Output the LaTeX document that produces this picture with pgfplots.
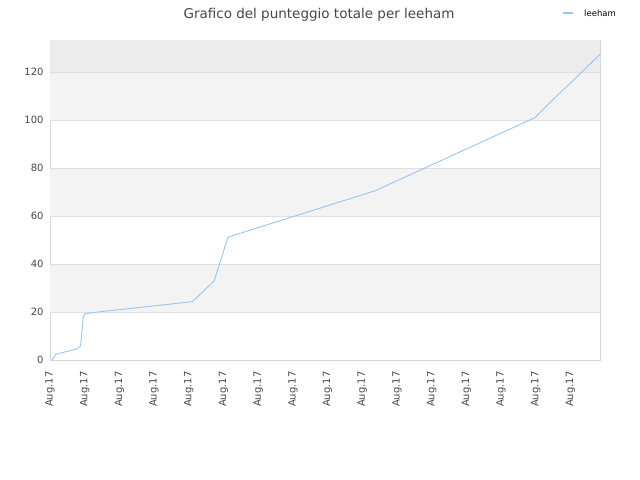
\documentclass[border=0pt]{standalone}
\usepackage{pgfplots}
\pgfplotsset{compat=1.18}
\usepackage{fontspec}
\setmainfont{DejaVu Sans}
\definecolor{serie}{RGB}{150,198,245}
\definecolor{bandA}{RGB}{243,243,243}
\definecolor{bandB}{RGB}{236,236,236}
\definecolor{griglia}{RGB}{224,224,224}
\definecolor{bordo}{RGB}{214,214,214}
\definecolor{testo}{RGB}{70,70,70}

\begin{document}
\begin{tikzpicture}
\useasboundingbox (0bp,0bp) rectangle (640bp,480bp);
\begin{axis}[
    at={(50bp,120bp)}, anchor=south west,
    scale only axis, width=550bp, height=320bp,
    xmin=0, xmax=15.85, ymin=0, ymax=133.3,
    xtick={0,...,15}, xticklabel={Aug.17},
    ytick={0,20,...,120},
    major tick length=0pt,
    axis line style={bordo, line width=0.8bp},
    tick label style={font=\fontsize{10bp}{11bp}\selectfont, text=testo},
    xticklabel style={yshift=-8bp, rotate=90, anchor=east},
    yticklabel style={xshift=-3bp},
    /pgf/number format/assume math mode=true,
]
% bande di sfondo e griglia
\fill[bandA] (axis cs:0,20) rectangle (axis cs:15.85,40);
\fill[bandA] (axis cs:0,60) rectangle (axis cs:15.85,80);
\fill[bandA] (axis cs:0,100) rectangle (axis cs:15.85,120);
\fill[bandB] (axis cs:0,120) rectangle (axis cs:15.85,133.3);
\foreach \g in {20,40,...,120} {
  \edef\riga{\noexpand\draw[griglia, line width=0.8bp] (axis cs:0,\g) -- (axis cs:15.85,\g);}
  \riga
}
\addplot[serie, line width=0.9bp, mark=none] coordinates {
    (0.058,0) (0.17,2.4) (0.77,4.6) (0.88,5.8) (0.96,18) (1.01,19.2)
    (1.20,19.7) (4.10,24.3) (4.73,32.9) (5.13,51.2) (9.37,70.5)
    (13.98,101) (14.43,107.6) (15.37,120.5) (15.85,127.4)
};
\end{axis}
\node[anchor=base, text=testo, font=\fontsize{13.5bp}{15bp}\selectfont] at (319bp,461.3bp) {Grafico del punteggio totale per leeham};
\draw[serie, line width=1.5bp] (563bp,467bp) -- (573bp,467bp);
\node[anchor=base west, inner sep=0pt, font=\fontsize{8.5bp}{10bp}\selectfont] at (584bp,463.3bp) {leeham};
\end{tikzpicture}
\end{document}
